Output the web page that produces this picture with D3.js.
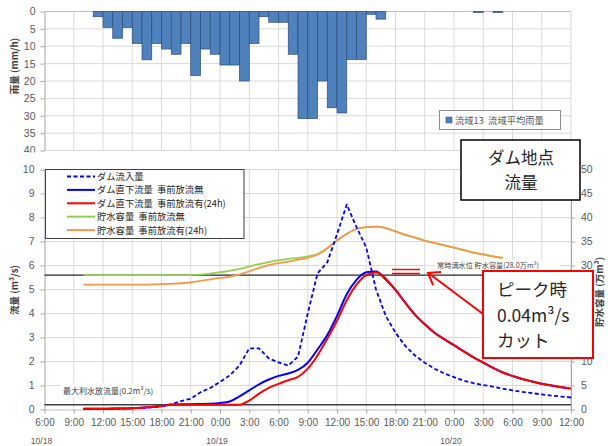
<!DOCTYPE html>
<html>
<head>
<meta charset="utf-8">
<script src="https://cdn.jsdelivr.net/npm/d3@7"></script>
<style>
  body { margin: 0; background: #fff; }
  text { font-family: "Liberation Sans", "Noto Sans CJK JP", sans-serif; }
  .jp { font-family: "Noto Sans CJK JP", "Noto Sans", sans-serif; white-space: pre; }
</style>
</head>
<body>
<svg id="chart" width="608" height="446"></svg>
<script>
// hours counted from 10/18 6:00
const rainHours = [5, 6, 7, 8, 9, 10, 11, 12, 13, 14, 15, 16, 17, 18, 19, 20, 21, 22, 23, 24,
  25, 26, 27, 28, 29, 30, 31, 32, 33, 34, 44, 46];
const rainValues = [1.5, 4.6, 7.7, 4.6, 9.2, 13.9, 9.2, 10.8, 12.3, 9.2, 18.4, 10.8, 12.3, 15.4, 15.4, 20.0, 9.2, 1.5, 3.1, 3.1,
  12.3, 30.8, 30.8, 20.0, 27.7, 29.2, 13.8, 13.8, 0.8, 2.2, 0.3, 0.3];

const flowHours = [4, 5, 6, 7, 8, 9, 10, 11, 12, 13, 14, 15, 16, 17, 18, 19, 20, 21, 22, 23,
  24, 25, 26, 27, 28, 29, 30, 31, 32, 33, 34, 35, 36, 37, 38, 39, 40, 41, 42, 43,
  44, 45, 46, 47, 48, 49, 50, 51, 52, 53, 54];
// ダム流入量
const inflow = [0.02, 0.02, 0.03, 0.03, 0.04, 0.05, 0.07, 0.09, 0.13, 0.22,
  0.35, 0.45, 0.72, 0.9, 1.15, 1.42, 1.83, 2.55, 2.55, 2.13,
  1.96, 1.83, 2.2, 4.0, 5.67, 6.13, 7.3, 8.54, 7.6, 6.75,
  5.0, 3.9, 3.2, 2.65, 2.25, 1.95, 1.7, 1.5, 1.35, 1.2,
  1.1, 1.02, 0.95, 0.87, 0.8, 0.73, 0.68, 0.63, 0.58, 0.54, 0.5];
// ダム直下流量 事前放流無
const outflowNo = [0.03, 0.03, 0.03, 0.04, 0.04, 0.05, 0.07, 0.1, 0.15, 0.2,
  0.22, 0.22, 0.23, 0.24, 0.27, 0.33, 0.55, 0.8, 1.05, 1.25,
  1.4, 1.5, 1.65, 1.95, 2.5, 3.1, 3.9, 4.8, 5.4, 5.72,
  5.75, 5.42, 4.98, 4.45, 3.95, 3.55, 3.2, 2.93, 2.68, 2.42,
  2.17, 1.95, 1.73, 1.54, 1.4, 1.27, 1.17, 1.07, 1.0, 0.93, 0.87];
// ダム直下流量 事前放流有(24h)
const outflowPre = [0.03, 0.03, 0.03, 0.04, 0.04, 0.05, 0.07, 0.1, 0.15, 0.2,
  0.2, 0.2, 0.2, 0.2, 0.2, 0.2, 0.2, 0.37, 0.66, 0.9,
  1.07, 1.22, 1.36, 1.7, 2.25, 2.95, 3.7, 4.55, 5.2, 5.6,
  5.71, 5.45, 4.98, 4.45, 3.95, 3.55, 3.2, 2.93, 2.68, 2.42,
  2.17, 1.95, 1.73, 1.54, 1.4, 1.27, 1.17, 1.07, 1.0, 0.93, 0.87];

const storageHours = [4, 5, 6, 7, 8, 9, 10, 11, 12, 13, 14, 15, 16, 17, 18, 19, 20, 21, 22, 23,
  24, 25, 26, 27, 28, 29, 30, 31, 32, 33, 34, 35, 36, 37, 38, 39, 40, 41, 42, 43,
  44, 45, 46, 47];
// 貯水容量 事前放流無
const storageNo = [28.0, 28.0, 28.0, 28.0, 28.0, 28.0, 28.0, 28.0, 28.0, 28.0,
  28.0, 28.0, 28.1, 28.3, 28.6, 28.9, 29.3, 29.8, 30.3, 30.7,
  31.1, 31.4, 31.6, 31.9, 32.4, 33.6, 35.2, 36.6, 37.6, 38.0,
  38.1, 37.8, 37.1, 36.4, 35.8, 35.2, 34.7, 34.2, 33.7, 33.2,
  32.7, 32.3, 31.9, 31.6];
// 貯水容量 事前放流有(24h)
const storagePre = [26.0, 26.0, 26.0, 26.0, 26.0, 26.0, 26.0, 26.05, 26.1, 26.2,
  26.3, 26.5, 26.8, 27.1, 27.4, 27.7, 28.1, 28.8, 29.5, 30.1,
  30.5, 30.8, 31.2, 31.6, 32.3, 33.6, 35.2, 36.6, 37.6, 38.0,
  38.1, 37.8, 37.1, 36.4, 35.8, 35.2, 34.7, 34.2, 33.7, 33.2,
  32.7, 32.3, 31.9, 31.6];

const timeLabels = ['6:00', '9:00', '12:00', '15:00', '18:00', '21:00', '0:00', '3:00', '6:00', '9:00',
  '12:00', '15:00', '18:00', '21:00', '0:00', '3:00', '6:00', '9:00', '12:00'];
const dateLabels = ['10/18', '10/19', '10/20'];
const dateHours = [0, 18, 42];

const normalLevel = 28.0;   // 常時満水位 貯水容量 (万m3)
const maxRelease = 0.2;     // 最大利水放流量 (m3/s)

const svg = d3.select('#chart');
svg.append('rect').attr('width', 608).attr('height', 446).attr('fill', '#fff');

const x = d3.scaleLinear().domain([0, 54]).range([44.5, 571]);
const yRain = d3.scaleLinear().domain([0, 40]).range([11.5, 150.5]);
const yFlow = d3.scaleLinear().domain([0, 10]).range([409.5, 169.5]);
const yVol = d3.scaleLinear().domain([0, 50]).range([409.5, 169.5]);

const gridCol = '#d9d9d9';
const tickCol = '#595959';

function styleAxis(g, size) {
    g.select('.domain').attr('stroke', '#a6a6a6');
    g.selectAll('.tick line').attr('stroke', '#a6a6a6');
    g.selectAll('.tick text').attr('fill', tickCol).style('font-size', size + 'px')
        .style('font-family', '"Liberation Sans", sans-serif');
}

//Rain chart
svg.append('clipPath').attr('id', 'topclip')
    .append('rect').attr('x', 0).attr('y', 0).attr('width', 608).attr('height', 152.5);
const rainG = svg.append('g').attr('clip-path', 'url(#topclip)');

rainG.append('g').selectAll('line')
    .data(d3.range(5, 45, 5)).join('line')
    .attr('x1', x(0)).attr('x2', x(54))
    .attr('y1', d => yRain(d)).attr('y2', d => yRain(d))
    .attr('stroke', gridCol);
rainG.append('g').selectAll('line')
    .data(d3.range(3, 55, 3)).join('line')
    .attr('x1', d => x(d)).attr('x2', d => x(d))
    .attr('y1', yRain(0)).attr('y2', yRain(40))
    .attr('stroke', gridCol);
rainG.append('line').attr('x1', x(0)).attr('x2', x(54))
    .attr('y1', yRain(0)).attr('y2', yRain(0)).attr('stroke', '#bfbfbf');

const bw = x(1) - x(0);
rainG.append('g').selectAll('rect')
    .data(rainHours.map((h, i) => ({ h: h, v: rainValues[i] })))
    .join('rect')
    .attr('x', d => x(d.h))
    .attr('y', yRain(0))
    .attr('width', bw)
    .attr('height', d => yRain(d.v) - yRain(0))
    .attr('fill', '#4f81bd')
    .attr('stroke', '#2c4d7a')
    .attr('stroke-width', 0.7);

const rainAxis = rainG.append('g').attr('transform', 'translate(' + x(0) + ',0)')
    .call(d3.axisLeft(yRain).tickValues(d3.range(0, 45, 5)).tickSize(4).tickSizeOuter(0).tickPadding(5));
styleAxis(rainAxis, 10.5);

svg.append('text').attr('class', 'jp')
    .attr('transform', 'translate(18,66) rotate(-90)')
    .attr('text-anchor', 'middle').attr('fill', '#404040')
    .style('font-size', '9.5px').style('font-weight', 'bold')
    .text('雨量 (mm/h)');

// rain legend
const rl = svg.append('g');
rl.append('rect').attr('x', 439.5).attr('y', 110.5).attr('width', 121).attr('height', 19)
    .attr('fill', '#fff').attr('stroke', '#8c8c8c');
rl.append('rect').attr('x', 446).attr('y', 117).attr('width', 6).attr('height', 6)
    .attr('fill', '#4f81bd').attr('stroke', '#2c4d7a').attr('stroke-width', 0.5);
rl.append('text').attr('class', 'jp').attr('x', 455).attr('y', 123.5)
    .attr('fill', tickCol).style('font-size', '9.3px')
    .text('流域13  流域平均雨量');

//Flow chart
const bot = svg.append('g');
bot.append('g').selectAll('line')
    .data(d3.range(1, 11)).join('line')
    .attr('x1', x(0)).attr('x2', x(54))
    .attr('y1', d => yFlow(d)).attr('y2', d => yFlow(d))
    .attr('stroke', gridCol);
bot.append('g').selectAll('line')
    .data(d3.range(3, 55, 3)).join('line')
    .attr('x1', d => x(d)).attr('x2', d => x(d))
    .attr('y1', yFlow(0)).attr('y2', yFlow(10))
    .attr('stroke', gridCol);

const xAxis = bot.append('g').attr('transform', 'translate(0,' + yFlow(0) + ')')
    .call(d3.axisBottom(x).tickValues(d3.range(0, 55, 3))
        .tickFormat((d, i) => timeLabels[i]).tickSize(4).tickSizeOuter(0).tickPadding(5));
styleAxis(xAxis, 10);
xAxis.select('.domain').attr('stroke', '#bfbfbf');

const leftAxis = bot.append('g').attr('transform', 'translate(' + x(0) + ',0)')
    .call(d3.axisLeft(yFlow).tickValues(d3.range(0, 11, 1)).tickSize(4).tickSizeOuter(0).tickPadding(6));
styleAxis(leftAxis, 10.5);

const rightAxis = bot.append('g').attr('transform', 'translate(' + x(54) + ',0)')
    .call(d3.axisRight(yVol).tickValues(d3.range(0, 55, 5)).tickSize(4).tickSizeOuter(0).tickPadding(6));
styleAxis(rightAxis, 10.5);

bot.append('g').selectAll('text')
    .data(dateLabels).join('text')
    .attr('x', (d, i) => x(dateHours[i]) - 3)
    .attr('y', 444)
    .attr('text-anchor', 'middle')
    .attr('fill', tickCol).style('font-size', '8.5px')
    .text(d => d);

svg.append('text').attr('class', 'jp')
    .attr('transform', 'translate(18,290) rotate(-90)')
    .attr('text-anchor', 'middle').attr('fill', '#404040')
    .style('font-size', '9.5px').style('font-weight', 'bold')
    .text('流量 (m³/s)');
svg.append('text').attr('class', 'jp')
    .attr('transform', 'translate(603,292) rotate(-90)')
    .attr('text-anchor', 'middle').attr('fill', '#404040')
    .style('font-size', '9.5px').style('font-weight', 'bold')
    .text('貯水容量 (万m³)');

// reference lines
bot.append('line').attr('x1', x(0)).attr('x2', x(54))
    .attr('y1', yVol(normalLevel)).attr('y2', yVol(normalLevel))
    .attr('stroke', '#262626').attr('stroke-width', 1.3);
bot.append('line').attr('x1', x(0)).attr('x2', x(54))
    .attr('y1', yFlow(maxRelease)).attr('y2', yFlow(maxRelease))
    .attr('stroke', '#404040').attr('stroke-width', 1.6);

// series
function drawSeries(hours, values, yScale, color, width, dash, curve) {
    const line = d3.line()
        .x((d, i) => x(hours[i]))
        .y(d => yScale(d))
        .curve(curve);
    bot.append('path').datum(values)
        .attr('d', line)
        .attr('fill', 'none')
        .attr('stroke', color)
        .attr('stroke-width', width)
        .attr('stroke-dasharray', dash)
        .attr('stroke-linejoin', 'round');
}

drawSeries(storageHours, storageNo, yVol, '#92d050', 1.8, null, d3.curveMonotoneX);
drawSeries(storageHours, storagePre, yVol, '#f79646', 1.8, null, d3.curveMonotoneX);
drawSeries(flowHours, inflow, yFlow, '#0000ff', 1.8, '4,2.5', d3.curveLinear);
drawSeries(flowHours, outflowNo, yFlow, '#0000ff', 2, null, d3.curveMonotoneX);
drawSeries(flowHours, outflowPre, yFlow, '#ff0000', 2, null, d3.curveMonotoneX);

// flow legend
const legendItems = [
    { name: 'ダム流入量', color: '#0000ff', dash: '4,2.5' },
    { name: 'ダム直下流量  事前放流無', color: '#0000ff', dash: null },
    { name: 'ダム直下流量  事前放流有(24h)', color: '#ff0000', dash: null },
    { name: '貯水容量  事前放流無', color: '#92d050', dash: null },
    { name: '貯水容量  事前放流有(24h)', color: '#f79646', dash: null }
];
const lg = svg.append('g');
lg.append('rect').attr('x', 45.5).attr('y', 169.5).attr('width', 198.5).attr('height', 69)
    .attr('fill', '#fff').attr('stroke', '#404040');
const li = lg.selectAll('g').data(legendItems).join('g')
    .attr('transform', (d, i) => 'translate(0,' + (176.5 + i * 13.4) + ')');
li.append('line').attr('x1', 67).attr('x2', 95).attr('y1', 0).attr('y2', 0)
    .attr('stroke', d => d.color).attr('stroke-width', 2)
    .attr('stroke-dasharray', d => d.dash);
li.append('text').attr('class', 'jp').attr('x', 97).attr('y', 3.5)
    .attr('fill', '#262626').style('font-size', '9.3px')
    .text(d => d.name);

// labels on reference lines
svg.append('rect').attr('x', 60).attr('y', 383).attr('width', 100).attr('height', 14).attr('fill', '#fff');
svg.append('text').attr('class', 'jp').attr('x', 63).attr('y', 393.5)
    .attr('fill', '#404040').style('font-size', '8px')
    .text('最大利水放流量(0.2m³/s)');
svg.append('rect').attr('x', 435).attr('y', 259.5).attr('width', 125).attr('height', 12).attr('fill', '#fff');
svg.append('text').attr('class', 'jp').attr('x', 437).attr('y', 268)
    .attr('fill', '#404040').style('font-size', '7.2px')
    .text('常時満水位 貯水容量(28.0万m³)');

// title box
svg.append('rect').attr('x', 461).attr('y', 140).attr('width', 119).attr('height', 60)
    .attr('fill', '#fff').attr('stroke', '#000').attr('stroke-width', 1.5);
const title = svg.append('text').attr('class', 'jp')
    .attr('text-anchor', 'middle').attr('fill', '#262626').style('font-size', '16.5px');
title.append('tspan').attr('x', 521).attr('y', 164).text('ダム地点');
title.append('tspan').attr('x', 521).attr('y', 188.5).text('流量');

// peak cut annotation
const ann = svg.append('g');
ann.append('line').attr('x1', 392).attr('x2', 420).attr('y1', 269.5).attr('y2', 269.5)
    .attr('stroke', '#ff0000').attr('stroke-width', 1.5);
ann.append('line').attr('x1', 392).attr('x2', 420).attr('y1', 273.5).attr('y2', 273.5)
    .attr('stroke', '#ff0000').attr('stroke-width', 1.5);
ann.append('line').attr('x1', 483).attr('y1', 314).attr('x2', 429).attr('y2', 273.5)
    .attr('stroke', '#ff0000').attr('stroke-width', 2);
ann.append('polyline').attr('points', '441,272 428,273 433,285')
    .attr('fill', 'none').attr('stroke', '#ff0000').attr('stroke-width', 2)
    .attr('stroke-linejoin', 'miter');
ann.append('rect').attr('x', 483).attr('y', 271).attr('width', 110).attr('height', 87)
    .attr('fill', '#fff').attr('stroke', '#ff0000').attr('stroke-width', 2);
const annText = ann.append('text').attr('class', 'jp')
    .attr('fill', '#262626').style('font-size', '17.5px');
annText.selectAll('tspan').data(['ピーク時', '0.04m³/s', 'カット']).join('tspan')
    .attr('x', 497)
    .attr('y', (d, i) => [296, 321.5, 347][i])
    .text(d => d);
</script>
</body>
</html>
